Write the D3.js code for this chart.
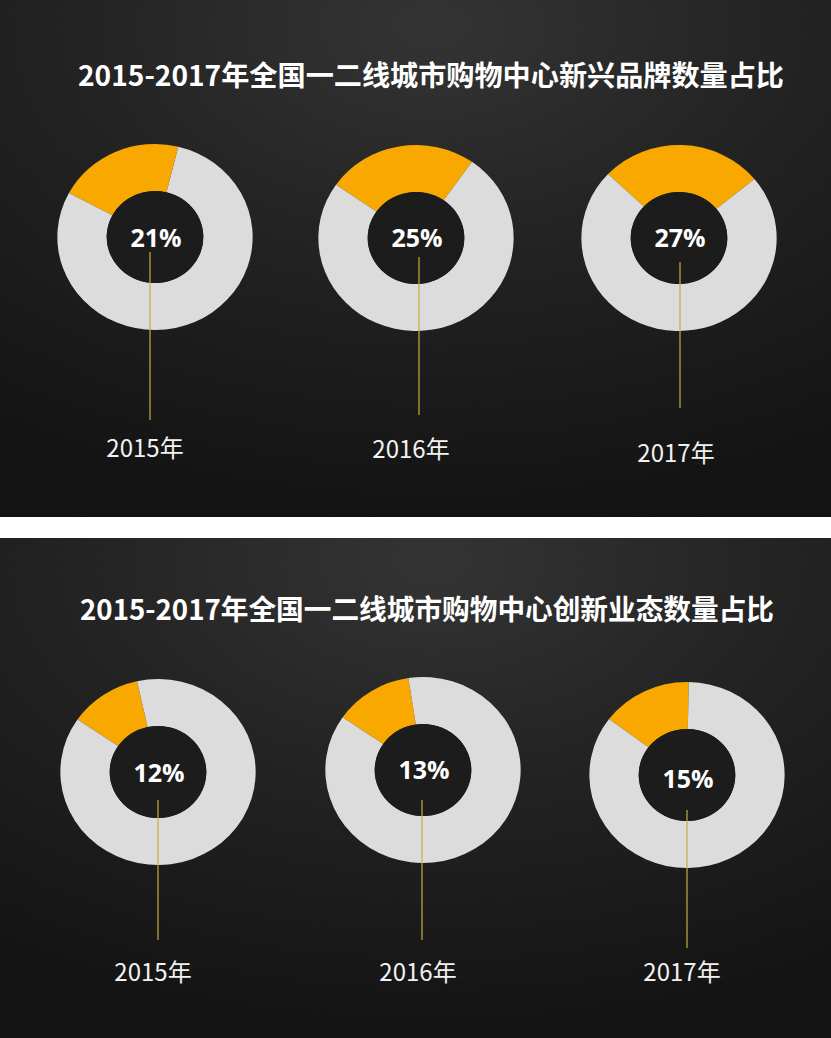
<!DOCTYPE html>
<html><head><meta charset="utf-8">
<script src="https://cdn.jsdelivr.net/npm/d3@7"></script>
<style>html,body{margin:0;padding:0;background:#fff;}svg{display:block;}</style>
</head><body>
<div id="chart"></div>
<script>
// ---- data ----
const titles = ["2015-2017年全国一二线城市购物中心新兴品牌数量占比", "2015-2017年全国一二线城市购物中心创新业态数量占比"];
const years = ["2015年", "2016年", "2017年"];
const brandShare = [21, 25, 27];   // 新兴品牌数量占比 (%)
const formatShare = [12, 13, 15];  // 创新业态数量占比 (%)

// ---- layout ----
const W = 831, H = 1038;
const panels = [
  {y0: 0, y1: 517, title: titles[0], titleY: 86, titleW: 706, titleX: 431, values: brandShare,
   cx: [155, 416, 679], cy: [237, 238, 238], rot: [-24, -10, 2],
   pctY: [237, 237, 237], lineTop: [252, 257, 262], lineBot: [420, 415, 408], lineX: [150, 419, 680],
   labX: [145, 411, 676], labY: [457, 458, 462]},
  {y0: 538, y1: 1038, title: titles[1], titleY: 620, titleW: 694, titleX: 427, values: formatShare,
   cx: [158, 423, 687], cy: [772, 770, 775], rot: [-34, -32, -26],
   pctY: [772, 769, 778], lineTop: [800, 800, 810], lineBot: [940, 940, 948], lineX: [158, 422, 687],
   labX: [153, 418, 682], labY: [981, 981, 981]}
];

const svg = d3.select("#chart").append("svg").attr("width", W).attr("height", H);
const defs = svg.append("defs");

const grad = defs.append("radialGradient").attr("id", "bg")
  .attr("cx", "0.52").attr("cy", "0.05").attr("r", "0.95");
grad.append("stop").attr("offset", "0").attr("stop-color", "#333333");
grad.append("stop").attr("offset", "0.45").attr("stop-color", "#222222");
grad.append("stop").attr("offset", "1").attr("stop-color", "#121212");

const pat = defs.append("pattern").attr("id", "tex").attr("patternUnits", "userSpaceOnUse")
  .attr("width", 3).attr("height", 3).attr("patternTransform", "rotate(35)");
pat.append("line").attr("x1", 0).attr("y1", 0).attr("x2", 0).attr("y2", 3)
  .attr("stroke", "#ffffff").attr("stroke-opacity", 0.03).attr("stroke-width", 1);

const pie = d3.pie().sort(null).value(d => d);

panels.forEach(p => {
  const g = svg.append("g");
  g.append("rect").attr("x", 0).attr("y", p.y0).attr("width", W).attr("height", p.y1 - p.y0).attr("fill", "url(#bg)");
  g.append("rect").attr("x", 0).attr("y", p.y0).attr("width", W).attr("height", p.y1 - p.y0).attr("fill", "url(#tex)");

  g.append("text").attr("x", p.titleX).attr("y", p.titleY)
    .attr("text-anchor", "middle")
    .attr("textLength", p.titleW).attr("lengthAdjust", "spacingAndGlyphs")
    .attr("font-family", "'Noto Sans CJK SC', sans-serif").attr("font-weight", "bold")
    .attr("font-size", 28).attr("fill", "#ffffff").text(p.title);

  const arc = d3.arc().innerRadius(46).outerRadius(93);

  p.values.forEach((v, i) => {
    const frac = v / 100;
    const c = p.rot[i] * Math.PI / 180;
    const start = c - frac * Math.PI;
    const arcs = pie.startAngle(start).endAngle(start + 2 * Math.PI)([frac, 1 - frac]);
    const dg = g.append("g").attr("transform", `translate(${p.cx[i]},${p.cy[i]}) scale(1.05,1)`);
    dg.selectAll("path").data(arcs).join("path")
      .attr("d", arc)
      .attr("fill", (d, j) => j === 0 ? "#F9A800" : "#DCDCDC");
    dg.append("circle").attr("r", 46).attr("fill", "#1c1c1c");

    g.append("line").attr("x1", p.lineX[i]).attr("x2", p.lineX[i])
      .attr("y1", p.lineTop[i]).attr("y2", p.lineBot[i])
      .attr("stroke", "#c9ae3c").attr("stroke-width", 1.2);

    g.append("text").attr("x", p.cx[i] + 1).attr("y", p.pctY[i])
      .attr("text-anchor", "middle").attr("dominant-baseline", "central")
      .attr("font-family", "'Open Sans', sans-serif").attr("font-weight", "bold")
      .attr("font-size", 25).attr("fill", "#ffffff").text(v + "%");

    g.append("text").attr("x", p.labX[i]).attr("y", p.labY[i])
      .attr("text-anchor", "middle")
      .attr("font-family", "'Noto Sans CJK SC', sans-serif")
      .attr("font-size", 24).attr("fill", "#f2f2f2").text(years[i]);
  });
});
</script>
</body></html>
